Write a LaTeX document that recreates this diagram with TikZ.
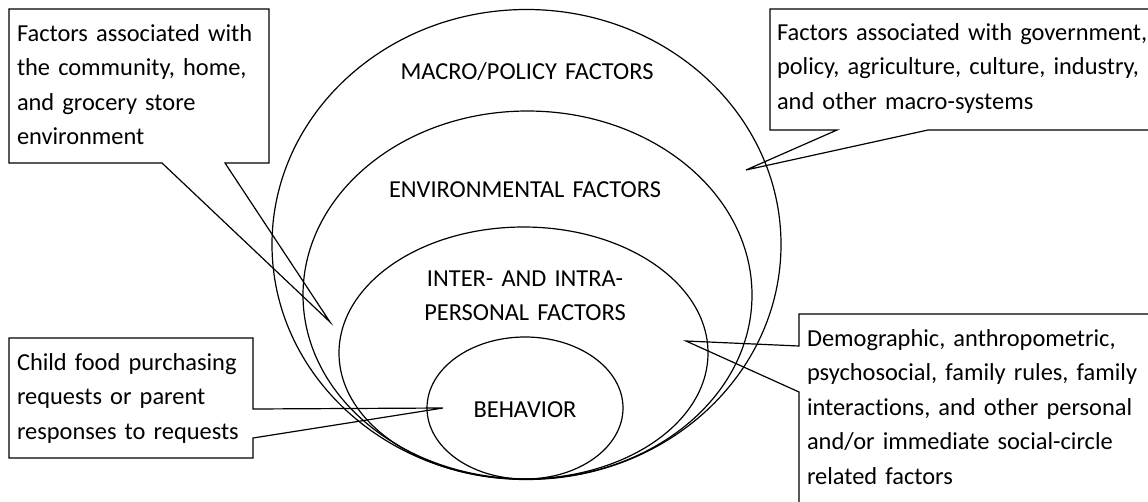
\documentclass[tikz,border=0pt]{standalone}
\usepackage{fontspec}
\setmainfont{Carlito}[Ligatures=NoCommon]
\usetikzlibrary{shapes.geometric}
\begin{document}
\begin{tikzpicture}[x=1pt,y=-1pt,
  every node/.style={inner sep=0pt, outer sep=0pt, font=\fontsize{24.4}{34.5}\selectfont},
  ring/.style={draw, ellipse, line width=1.2pt},
  callout/.style={draw, line width=1.2pt, line join=miter},
  note/.style={anchor=base west, align=left, text width=380pt},
  ringlabel/.style={anchor=base, align=center, text width=400pt}]
\useasboundingbox (0,0) rectangle (1148,501);
\clip (0,0) rectangle (1148,501);

% nested spheres of influence, all resting on a common bottom
\node[ring, minimum width=509pt, minimum height=470pt] (macro) at (526.5,244.5) {};
\node[ring, minimum width=449pt, minimum height=368pt] (env)   at (527.5,295)   {};
\node[ring, minimum width=369pt, minimum height=252pt] (inter) at (523.5,353)   {};
\node[ring, minimum width=196pt, minimum height=142pt] (behav) at (525,408)     {};

% ring titles
\node[ringlabel] (macrotxt) at (527,79)  {MACRO/POLICY FACTORS};
\node[ringlabel] (envtxt)   at (525,197) {ENVIRONMENTAL FACTORS};
\node[ringlabel] (intertxt) at (525,286) {INTER- AND INTRA-\\PERSONAL FACTORS};
\node[ringlabel] (behavtxt) at (525,417) {BEHAVIOR};

% points the callouts aim at
\coordinate (tipEnv)   at (330,322);
\coordinate (tipMacro) at (746,170);
\coordinate (tipBehav) at (443,408);
\coordinate (tipInter) at (686,341);

% callout boxes with their pointers
\draw[callout] (9,9) -- (269,9) -- (269,163) -- (225,163) -- (tipEnv)
  -- (162,163) -- (9,163) -- cycle;
\draw[callout] (770,9) -- (1160,9) -- (1160,130) -- (928,130) -- (tipMacro)
  -- (837,130) -- (770,130) -- cycle;
\draw[callout] (9,338) -- (253,338) -- (253,409) -- (tipBehav)
  -- (253,438) -- (253,458) -- (9,458) -- cycle;
\draw[callout] (799,314) -- (1160,314) -- (1160,520) -- (799,520)
  -- (799,392) -- (tipInter) -- (799,346) -- cycle;

% callout texts
\node[note] (envnote) at (17,41)
  {Factors associated with\\the community, home,\\and grocery store\\environment};
\node[note] (macronote) at (777,40)
  {Factors associated with government,\\policy, agriculture, culture, industry,\\and other macro-systems};
\node[note] (behavnote) at (17,370)
  {Child food purchasing\\requests or parent\\responses to requests};
\node[note] (internote) at (807,346)
  {Demographic, anthropometric,\\psychosocial, family rules, family\\interactions, and other personal\\and/or immediate social-circle\\related factors};
\end{tikzpicture}
\end{document}
